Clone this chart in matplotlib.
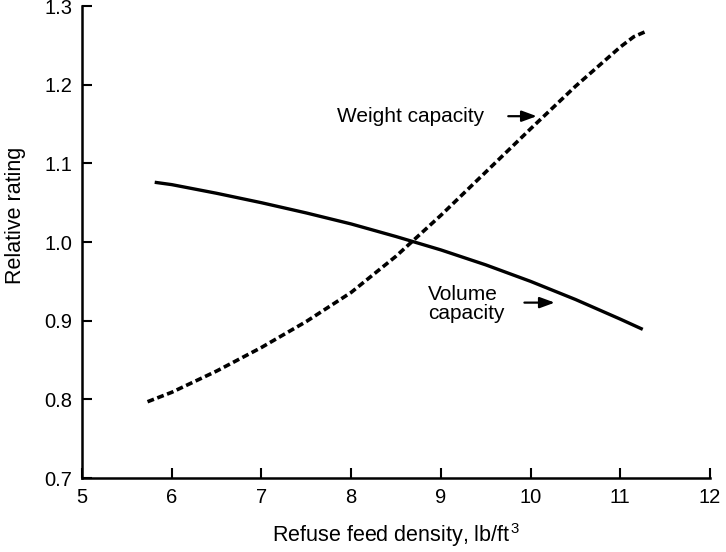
import matplotlib.pyplot as plt

plt.rcParams['font.family'] = ['Liberation Sans', 'DejaVu Sans']
plt.rcParams['mathtext.fontset'] = 'custom'
plt.rcParams['mathtext.rm'] = 'Liberation Sans'
plt.rcParams['mathtext.it'] = 'Liberation Sans'

# values
weight_x = [5.73, 6.0, 6.5, 7.0, 7.5, 8.0, 8.5, 9.0, 9.5, 10.0, 10.5, 10.8, 11.0, 11.15, 11.27]
weight_y = [0.797, 0.809, 0.836, 0.866, 0.899, 0.936, 0.982, 1.034, 1.089, 1.144, 1.198, 1.228, 1.248, 1.261, 1.267]

volume_x = [5.81, 6.0, 6.5, 7.0, 7.5, 8.0, 8.5, 9.0, 9.5, 10.0, 10.5, 11.0, 11.25]
volume_y = [1.076, 1.073, 1.062, 1.050, 1.037, 1.023, 1.007, 0.990, 0.971, 0.950, 0.927, 0.902, 0.889]

x_ticks = [5, 6, 7, 8, 9, 10, 11, 12]
y_ticks = [0.7, 0.8, 0.9, 1.0, 1.1, 1.2, 1.3]

fig = plt.figure(figsize=(7.26, 5.52), dpi=100)
ax = fig.add_axes([0.113, 0.134, 0.865, 0.855])

ax.plot(volume_x, volume_y, color='black', lw=2.4, solid_capstyle='butt')
ax.plot(weight_x, weight_y, color='black', lw=2.6, dashes=(1.9, 1.0))

# labels with arrows
ax.text(7.84, 1.16, 'Weight capacity', fontsize=15, ha='left', va='center')
ax.annotate('', xy=(10.1, 1.16), xytext=(9.72, 1.16),
            arrowprops=dict(arrowstyle='-|>,head_length=0.6,head_width=0.22',
                            color='black', lw=1.6, mutation_scale=15))
ax.text(8.86, 0.921, 'Volume\ncapacity', fontsize=15, ha='left', va='center', linespacing=1.0)
ax.annotate('', xy=(10.3, 0.923), xytext=(9.9, 0.923),
            arrowprops=dict(arrowstyle='-|>,head_length=0.6,head_width=0.22',
                            color='black', lw=1.6, mutation_scale=15))

ax.set_xlim(5, 12)
ax.set_ylim(0.7, 1.3)
ax.set_xticks(x_ticks)
ax.set_yticks(y_ticks)
ax.set_xticklabels([str(v) for v in x_ticks])
ax.set_yticklabels([f'{v:.1f}' for v in y_ticks])
ax.tick_params(direction='in', length=7, width=1.5, labelsize=14.5, pad=7)

for s in ['top', 'right']:
    ax.spines[s].set_visible(False)
for s in ['left', 'bottom']:
    ax.spines[s].set_linewidth(1.8)

ax.set_xlabel('Refuse feed density, lb/ft$^{\\,3}$', fontsize=15.5, labelpad=10)
ax.set_ylabel('Relative rating', fontsize=15.5)
ax.yaxis.set_label_coords(-0.09, 0.557)

fig.savefig('out.png', dpi=100)
